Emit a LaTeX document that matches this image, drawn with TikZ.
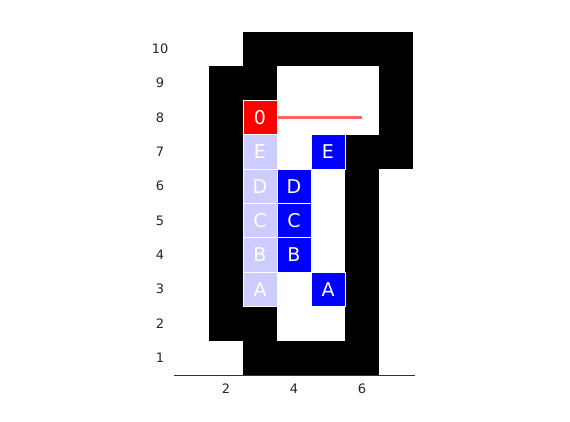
\documentclass[tikz,border=0pt]{standalone}
\usepackage{fontspec}
\setmainfont{DejaVu Sans}
\definecolor{lightblue}{RGB}{204,204,255}
\definecolor{pathred}{RGB}{255,100,100}
\begin{document}
\begin{tikzpicture}[x=34pt,y=34.33pt,
  wall/.style={fill=black,draw=none},
  cell/.style={draw=white,line width=1pt,minimum width=34pt,minimum height=34.33pt,inner sep=0pt,text=white,font=\fontsize{19}{19}\selectfont},
  ghost/.style={cell,fill=lightblue},
  agent/.style={cell,fill=blue},
  start/.style={cell,fill=red},
  pathline/.style={draw=pathred,line width=2.2pt},
  tick/.style={font=\fontsize{13}{13}\selectfont,text=black!85}]
\useasboundingbox (0.5-175/34,0.5-47/34.33) rectangle (0.5+395/34,0.5+375/34.33);
% walls
\fill[wall] (2.5,9.5) rectangle (7.5,10.5);
\fill[wall] (1.5,8.5) rectangle (3.5,9.5);
\fill[wall] (6.5,6.5) rectangle (7.5,9.5);
\fill[wall] (1.5,1.5) rectangle (2.5,8.5);
\fill[wall] (5.5,1.5) rectangle (6.5,7.5);
\fill[wall] (2.5,1.5) rectangle (3.5,2.5);
\fill[wall] (2.5,0.5) rectangle (6.5,1.5);
% cells
\node[start] (s0) at (3,8) {0};
\node[ghost] (gE) at (3,7) {E};
\node[ghost] (gD) at (3,6) {D};
\node[ghost] (gC) at (3,5) {C};
\node[ghost] (gB) at (3,4) {B};
\node[ghost] (gA) at (3,3) {A};
\node[agent] (aE) at (5,7) {E};
\node[agent] (aD) at (4,6) {D};
\node[agent] (aC) at (4,5) {C};
\node[agent] (aB) at (4,4) {B};
\node[agent] (aA) at (5,3) {A};
\coordinate (pend) at (6,8);
\path[pathline] (s0.east) -- (pend);
% axis
\coordinate (ax0) at (0.47,0.5);
\coordinate (ax1) at (7.57,0.5);
\draw[black!80,line width=0.8pt] (ax0) -- (ax1);
\foreach \v in {2,4,6} \node[tick] (xt\v) at (\v,0.09) {\v};
\foreach \v in {1,...,10} \node[tick] (yt\v) at (0.06,\v) {\v};
\end{tikzpicture}
\end{document}
